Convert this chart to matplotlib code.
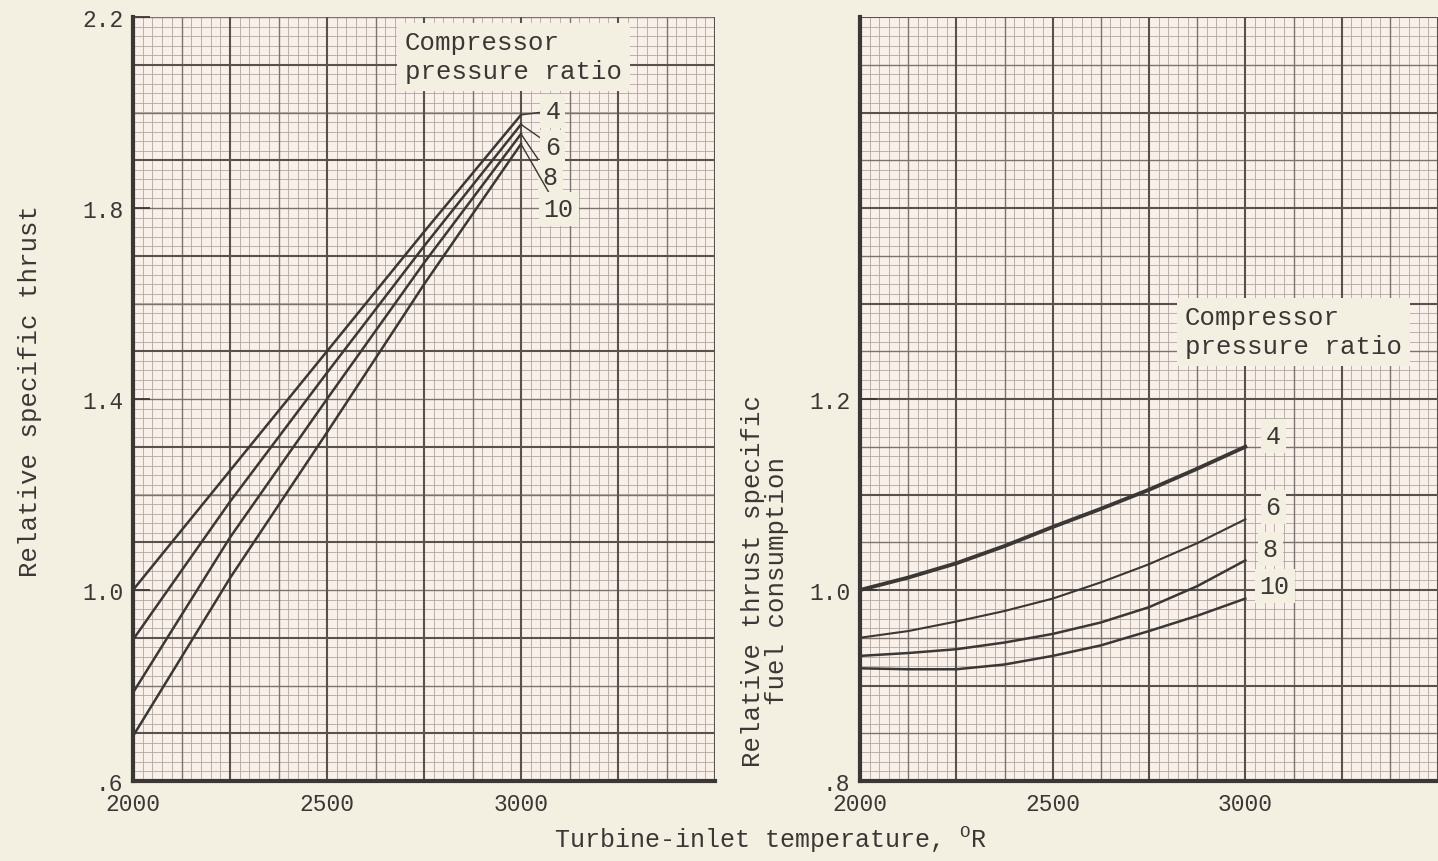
import matplotlib
matplotlib.use("Agg")
import matplotlib.pyplot as plt
import numpy as np

# Turbine-inlet temperature, deg R
temps_thrust = [2000, 2250, 2500, 2750, 3000]
temps_sfc = [2000, 2125, 2250, 2375, 2500, 2625, 2750, 2875, 3000]

pressure_ratios = ["4", "6", "8", "10"]

# Relative specific thrust for each compressor pressure ratio
thrust_pr4 = [1.000, 1.250, 1.500, 1.750, 1.995]
thrust_pr6 = [0.896, 1.185, 1.455, 1.720, 1.975]
thrust_pr8 = [0.785, 1.110, 1.400, 1.685, 1.955]
thrust_pr10 = [0.694, 1.025, 1.330, 1.640, 1.934]

# Relative thrust specific fuel consumption
sfc_pr4 = [1.000, 1.013, 1.028, 1.046, 1.066, 1.085, 1.105, 1.127, 1.150]
sfc_pr6 = [0.950, 0.957, 0.967, 0.978, 0.991, 1.008, 1.027, 1.049, 1.074]
sfc_pr8 = [0.931, 0.934, 0.938, 0.945, 0.954, 0.966, 0.982, 1.004, 1.031]
sfc_pr10 = [0.918, 0.917, 0.917, 0.922, 0.931, 0.942, 0.957, 0.973, 0.991]

thrust_ticks = [0.6, 1.0, 1.4, 1.8, 2.2]
thrust_tick_labels = [".6", "1.0", "1.4", "1.8", "2.2"]
sfc_ticks = [0.8, 1.0, 1.2]
sfc_tick_labels = [".8", "1.0", "1.2"]
temp_ticks = [2000, 2500, 3000]
temp_tick_labels = ["2000", "2500", "3000"]

page = "#F3EFE1"
paper = "#F9F0EA"
ink = "#3a3735"

plt.rcParams['font.family'] = ['Liberation Mono', 'DejaVu Sans Mono']
plt.rcParams['mathtext.fontset'] = 'custom'
plt.rcParams['mathtext.rm'] = 'Liberation Mono'
plt.rcParams['text.color'] = ink


def draw_paper(ax, ylo, yhi, fine_dy, heavy_y0, heavy_dy):
    # graph paper: fine squares, a medium line every 5, a heavy line every 10
    xlo, xhi = 2000, 3500
    eps = 1e-6
    fine_x = np.arange(xlo, xhi + eps, 25)
    med_x = np.arange(2125, xhi, 250)
    heavy_x = np.arange(xlo, xhi + eps, 250)
    fine_y = np.arange(ylo, yhi + eps, fine_dy)
    heavy_y = np.arange(heavy_y0, yhi + eps, heavy_dy)
    med_y = heavy_y + heavy_dy / 2
    med_y = med_y[med_y <= yhi + eps]
    ax.vlines(fine_x, ylo, yhi, colors="#aea69f", linewidth=0.6, zorder=1)
    ax.hlines(fine_y, xlo, xhi, colors="#aea69f", linewidth=0.6, zorder=1)
    ax.vlines(med_x, ylo, yhi, colors="#7a736e", linewidth=1.0, zorder=1)
    ax.hlines(med_y, xlo, xhi, colors="#7a736e", linewidth=1.0, zorder=1)
    ax.vlines(heavy_x, ylo, yhi, colors="#57524e", linewidth=1.5, zorder=1)
    ax.hlines(heavy_y, xlo, xhi, colors="#57524e", linewidth=1.5, zorder=1)
    ax.set_xlim(xlo, xhi)
    ax.set_ylim(ylo, yhi)
    ax.set_facecolor(paper)
    for side in ["top", "right"]:
        ax.spines[side].set_visible(False)
    for side in ["left", "bottom"]:
        ax.spines[side].set_linewidth(3)
        ax.spines[side].set_color(ink)
        ax.spines[side].set_zorder(5)
    ax.set_xticks(temp_ticks)
    ax.set_xticklabels(temp_tick_labels)
    ax.tick_params(axis="both", direction="in", length=12, width=1.3,
                   colors=ink, labelsize=16.5, pad=7)
    ax.tick_params(axis="x", length=0, pad=8)


fig = plt.figure(figsize=(14.38, 8.62), dpi=100, facecolor=page)

# left panel - specific thrust
ax1 = fig.add_axes([133 / 1438, 80 / 862, 582 / 1438, 764 / 862])
draw_paper(ax1, 0.6, 2.2, 0.02, 0.7, 0.2)
ax1.set_yticks(thrust_ticks)
ax1.set_yticklabels(thrust_tick_labels)

thrust_series = [thrust_pr4, thrust_pr6, thrust_pr8, thrust_pr10]
thrust_offsets = [(23, 3), (23, -16), (21, -31), (27, -47)]
for label, ys, off in zip(pressure_ratios, thrust_series, thrust_offsets):
    ax1.plot(temps_thrust, ys, color=ink, linewidth=1.8, zorder=3)
    ax1.annotate(label, xy=(temps_thrust[-1], ys[-1]), xytext=off,
                 textcoords="offset points", ha="center", va="center",
                 fontsize=18,
                 bbox=dict(boxstyle="square,pad=0.2", fc=page, ec="none"),
                 arrowprops=dict(arrowstyle="-", color=ink, lw=1.0,
                                 shrinkA=0, shrinkB=1),
                 zorder=4)

ax1.text(0.467, 0.948, "Compressor\npressure ratio", transform=ax1.transAxes,
         ha="left", va="center", fontsize=18.5, linespacing=1.25, zorder=4,
         bbox=dict(boxstyle="square,pad=0.3", fc=page, ec="none"))

# right panel - thrust specific fuel consumption
ax2 = fig.add_axes([860 / 1438, 80 / 862, 578 / 1438, 764 / 862])
draw_paper(ax2, 0.8, 1.6, 0.01, 0.8, 0.1)
ax2.set_yticks(sfc_ticks)
ax2.set_yticklabels(sfc_tick_labels)

sfc_series = [sfc_pr4, sfc_pr6, sfc_pr8, sfc_pr10]
sfc_widths = [2.8, 1.5, 1.8, 1.8]
sfc_offsets = [(20, 8), (20, 9), (18, 8), (21, 9)]
for label, ys, lw, off in zip(pressure_ratios, sfc_series, sfc_widths, sfc_offsets):
    ax2.plot(temps_sfc, ys, color=ink, linewidth=lw, zorder=3)
    ax2.annotate(label, xy=(temps_sfc[-1], ys[-1]), xytext=off,
                 textcoords="offset points", ha="center", va="center",
                 fontsize=18,
                 bbox=dict(boxstyle="square,pad=0.2", fc=page, ec="none"),
                 zorder=4)

ax2.text(0.562, 0.588, "Compressor\npressure ratio", transform=ax2.transAxes,
         ha="left", va="center", fontsize=18.5, linespacing=1.25, zorder=4,
         bbox=dict(boxstyle="square,pad=0.3", fc=page, ec="none"))

# axis titles
fig.text(30 / 1438, 1 - 391 / 862, "Relative specific thrust",
         rotation=90, ha="center", va="center", fontsize=18.5)
fig.text(765 / 1438, 1 - 581 / 862, "Relative thrust specific\nfuel consumption",
         rotation=90, ha="center", va="center", multialignment="center",
         fontsize=18.5, linespacing=1.0)
fig.text(770 / 1438, 1 - 840 / 862,
         r"Turbine-inlet temperature, $^{\mathregular{O}}$R",
         ha="center", va="center", fontsize=18)

fig.savefig("out.png", dpi=100, facecolor=page)
